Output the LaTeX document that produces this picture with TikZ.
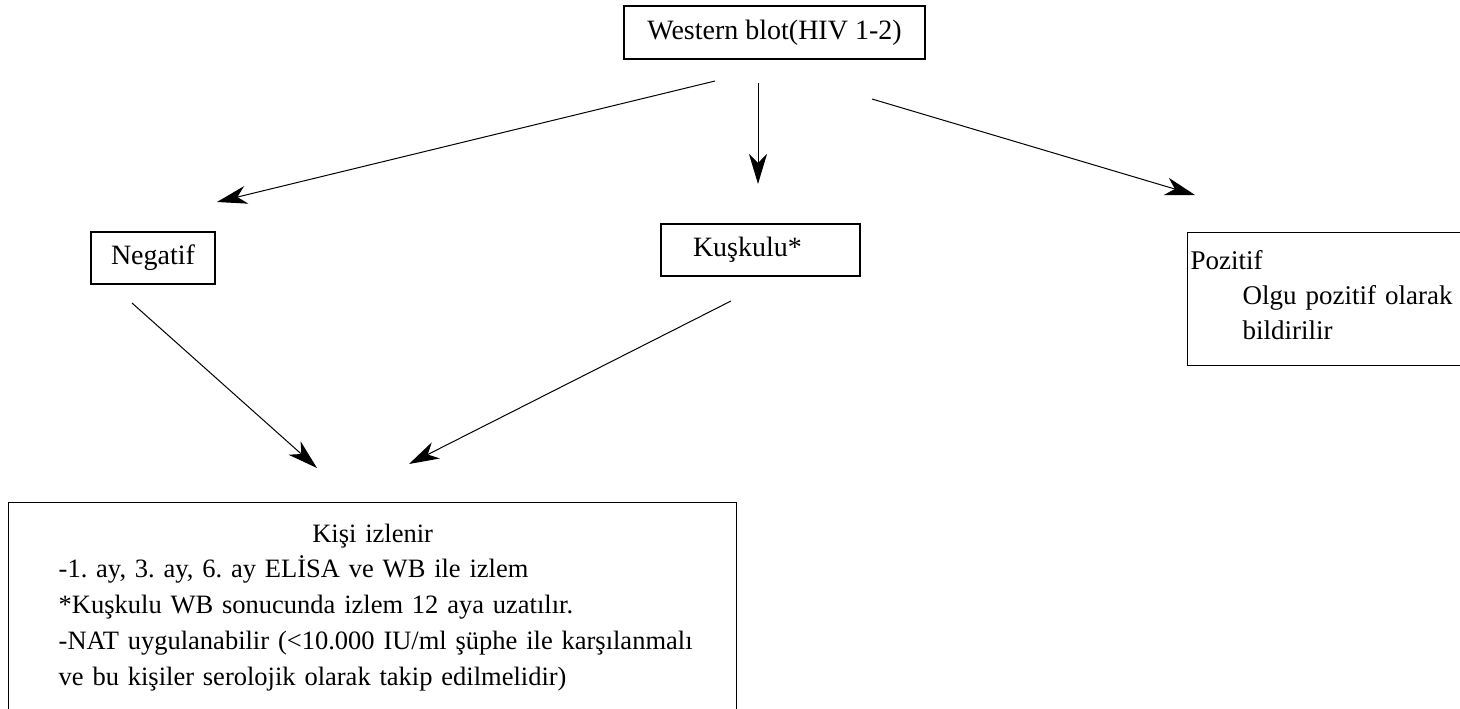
\documentclass[tikz,border=0pt]{standalone}
\usepackage{fontspec}
\setmainfont{Liberation Serif}
\usetikzlibrary{arrows.meta}
\frenchspacing

\begin{document}
\begin{tikzpicture}[x=1pt, y=-1pt, line width=1pt,
        main/.style = {draw, rectangle, line width=1.4pt, font=\fontsize{28}{35}\selectfont},
        >={Stealth[length=30pt, width=18pt, inset=9pt]}]
        \useasboundingbox (0,0) rectangle (1460,709);
        \clip (0,0) rectangle (1460,709);
        \node[main, minimum width=301pt, minimum height=53pt] (wb) at (774.5,32.5) {Western blot(HIV 1-2)};
        \node[main, minimum width=124pt, minimum height=52pt] (neg) at (153,258) {Negatif};
        \node[main, text width=135pt, inner xsep=32pt, minimum height=52pt, align=left] (kus) at (760.5,250) {Kuşkulu*};
        \node[main, font=\fontsize{27}{35}\selectfont, anchor=north west, text width=284pt, inner xsep=3pt, inner ysep=17.5pt, align=left] (poz) at (1187,232) {Pozitif\\ \hspace*{52pt}Olgu pozitif olarak\\ \hspace*{52pt}bildirilir\rule[-8.5pt]{0pt}{0pt}};
        \node[main, font=\fontsize{26.5}{35.75}\selectfont, anchor=north west, text width=716pt, inner xsep=6pt, inner ysep=21pt, align=left] (izlem) at (8,502) {\makebox[716pt]{Kişi izlenir}\\
            \hspace*{44pt}-1. ay, 3. ay, 6. ay ELİSA ve WB ile izlem\\
            \hspace*{44pt}*Kuşkulu WB sonucunda izlem 12 aya uzatılır.\\
            \hspace*{44pt}-NAT uygulanabilir (<10.000 IU/ml şüphe ile karşılanmalı\\
            \hspace*{44pt}ve bu kişiler serolojik olarak takip edilmelidir)};
        % free ends of the connectors
        \coordinate (wb-neg) at (715,81);
        \coordinate (neg-in) at (217,202);
        \coordinate (wb-kus) at (758,83);
        \coordinate (kus-in) at (758,184);
        \coordinate (wb-poz) at (872,99);
        \coordinate (poz-in) at (1195,195);
        \coordinate (neg-out) at (132,303);
        \coordinate (izlem-l) at (317,468);
        \coordinate (kus-out) at (731,301);
        \coordinate (izlem-r) at (409,464);
        \draw[->] (wb-neg) -- (neg-in);
        \draw[->] (wb-kus) -- (kus-in);
        \draw[->] (wb-poz) -- (poz-in);
        \draw[->] (neg-out) -- (izlem-l);
        \draw[->] (kus-out) -- (izlem-r);
\end{tikzpicture}
\end{document}
